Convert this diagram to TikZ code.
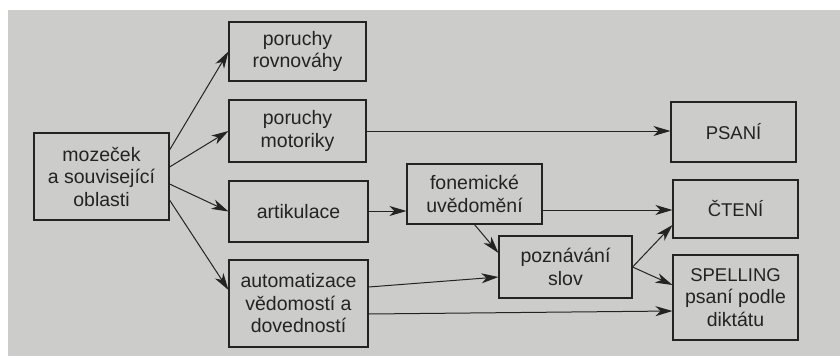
\documentclass[tikz,border=0pt]{standalone}
\usepackage{fontspec}
\setmainfont{Liberation Sans}
\usetikzlibrary{arrows.meta,calc}
\definecolor{bg}{RGB}{204,205,202}
\definecolor{ink}{RGB}{35,35,35}
\newcommand{\capsz}{\fontsize{18.5}{22.5}\selectfont}
\begin{document}
\begin{tikzpicture}[x=1pt,y=-1pt,
  box/.style={draw=ink,line width=1.1pt,fill=none,text=ink,align=center,
    inner sep=0pt,font=\fontsize{19.5}{22.5}\selectfont},
  arr/.style={draw=ink,line width=1pt,-{Stealth[length=17pt,width=10pt,inset=5pt]}}]
\useasboundingbox (0,0) rectangle (840,356);
\fill[white] (0,0) rectangle (840,356);
\fill[bg] (8,10) rectangle (840,356);
\node[box,minimum width=135pt,minimum height=87pt] (moz) at (101.5,176.5) {mozeček\\a související\\oblasti};
\node[box,minimum width=137pt,minimum height=59pt] (rov) at (297.5,51.5) {poruchy\\rovnováhy};
\node[box,minimum width=137pt,minimum height=62pt] (mot) at (297.5,131) {poruchy\\motoriky};
\node[box,minimum width=139pt,minimum height=61pt] (art) at (298.5,211.5) {artikulace};
\node[box,minimum width=139pt,minimum height=87pt] (aut) at (298.5,303.5) {automatizace\\vědomostí a\\dovedností};
\node[box,minimum width=135pt,minimum height=60pt] (fon) at (474.5,194) {fonemické\\uvědomění};
\node[box,minimum width=133pt,minimum height=62pt] (poz) at (565.5,267) {poznávání\\slov};
\node[box,minimum width=125pt,minimum height=60pt] (psa) at (733.5,132) {\capsz PSANÍ};
\node[box,minimum width=125pt,minimum height=58pt] (cte) at (735.5,209) {\capsz ČTENÍ};
\node[box,minimum width=125pt,minimum height=85pt] (spe) at (735.5,297.5) {{\capsz SPELLING}\\psaní podle\\diktátu};
\draw[arr] ([yshift=26.5pt]moz.east) -- (rov.west);
\draw[arr] ([yshift=9.5pt]moz.east) -- (mot.west);
\draw[arr] ([yshift=-7.5pt]moz.east) -- (art.west);
\draw[arr] ([yshift=-23.5pt]moz.east) -- ([yshift=13.5pt]aut.west);
\draw[arr] (mot.east) -- (mot.east -| psa.west);
\draw[arr] ([yshift=0.5pt]art.east) -- ([yshift=0.5pt]art.east -| fon.west);
\coordinate (f1) at ([yshift=-16pt]fon.east);
\draw[arr] (f1) -- (f1 -| cte.west);
\draw[arr] (fon.south) -- ([yshift=14pt]poz.west);
\draw[arr] ([yshift=16.5pt]aut.east) -- ([yshift=-10pt]poz.west);
\draw[arr] ([yshift=-10.5pt]aut.east) -- ([yshift=-13.5pt]spe.west);
\draw[arr] (poz.east) -- ([yshift=-16pt]cte.west);
\draw[arr] (poz.east) -- ([yshift=12.5pt]spe.west);
\end{tikzpicture}
\end{document}
